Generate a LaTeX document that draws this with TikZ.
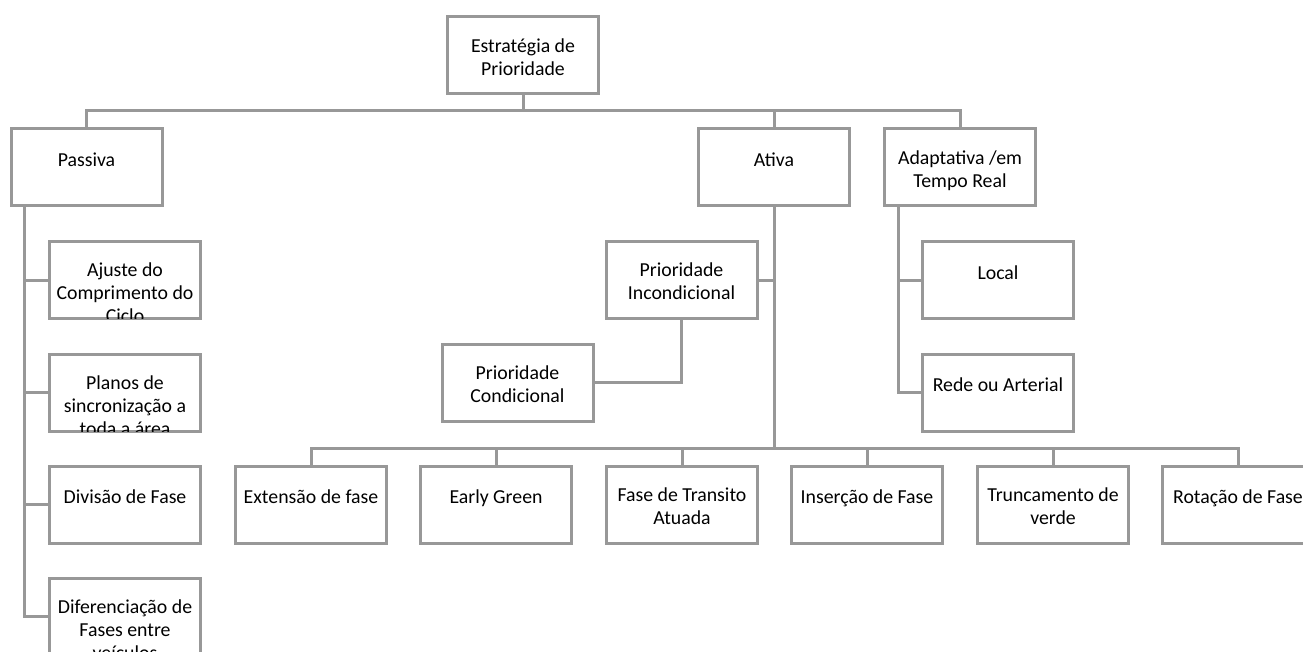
\documentclass[tikz,border=0pt]{standalone}
\usepackage{fontspec}
\setmainfont{Carlito}
\usetikzlibrary{positioning,calc}
\definecolor{linegray}{RGB}{152,152,152}

\begin{document}
\begin{tikzpicture}[x=1pt, y=1pt,
    conn/.style={draw=linegray, line width=3pt},
    box/.style={draw=linegray, line width=3pt, fill=white, minimum width=151pt, minimum height=77pt, inner sep=0pt},
    boxtext/.style={align=center, inner sep=0pt, font=\fontsize{19.8}{23}\selectfont, text=black, execute at begin node=\strut}]
  \useasboundingbox[fill=white] (0,0) rectangle (1303,-652);

  \node[box] (root) at (523,-55.5) {};

  \node[box] (passiva) at (86.5,-167.5) {};
  \node[box] (ativa) at (774,-167.5) {};
  \node[box] (adapt) at (960,-167.5) {};

  \node[box] (ajuste) at (125,-280) {};
  \node[box] (planos) at (125,-392.5) {};
  \node[box] (divisao) at (125,-504.5) {};
  \node[box] (difer) at (125,-616.5) {};

  \node[box] (incond) at (681.5,-280) {};
  \node[box] (cond) at (517.5,-382.5) {};

  \node[box] (local) at (998,-280) {};
  \node[box] (rede) at (998,-392.5) {};

  \node[box] (ext) at (311,-504.5) {};
  \node[box] (early) at (496,-504.5) {};
  \node[box] (transito) at (682,-504.5) {};
  \node[box] (insercao) at (867,-504.5) {};
  \node[box] (trunc) at (1053,-504.5) {};
  \node[box] (rotacao) at (1238,-504.5) {};

  \foreach \n/\t in {root/{Estratégia de\\Prioridade}, passiva/Passiva, ativa/Ativa,
      adapt/{Adaptativa /em\\Tempo Real}, ajuste/{Ajuste do\\Comprimento do\\Ciclo},
      planos/{Planos de\\sincronização a\\toda a área}, divisao/{Divisão de Fase},
      difer/{Diferenciação de\\Fases entre\\veículos}, incond/{Prioridade\\Incondicional},
      cond/{Prioridade\\Condicional}, local/Local, rede/{Rede ou Arterial},
      ext/{Extensão de fase}, early/{Early Green}, transito/{Fase de Transito\\Atuada},
      insercao/{Inserção de Fase}, trunc/{Truncamento de\\verde}, rotacao/{Rotação de Fase}}{
    \begin{scope}
      \clip ([shift={(1.5,1.5)}]\n.south west) rectangle ([shift={(-1.5,-1.5)}]\n.north east);
      \node[boxtext, below=23pt of \n.north] (\n-text) {\t};
    \end{scope}
  }

  \foreach \n in {passiva, ativa, adapt}
    \draw[conn] (root.south) -- ++(0,-15) -| (\n.north);

  \foreach \n in {ajuste, planos, divisao, difer}
    \draw[conn] ([xshift=15pt]passiva.south west) |- (\n.west);

  \foreach \n in {local, rede}
    \draw[conn] ([xshift=15pt]adapt.south west) |- (\n.west);

  \draw[conn] (ativa.south) |- (incond.east);
  \draw[conn] (incond.south) |- (cond.east);

  \foreach \n in {ext, early, transito, insercao, trunc, rotacao}
    \draw[conn] (ativa.south) -- ++(0,-241) -| (\n.north);
\end{tikzpicture}
\end{document}
